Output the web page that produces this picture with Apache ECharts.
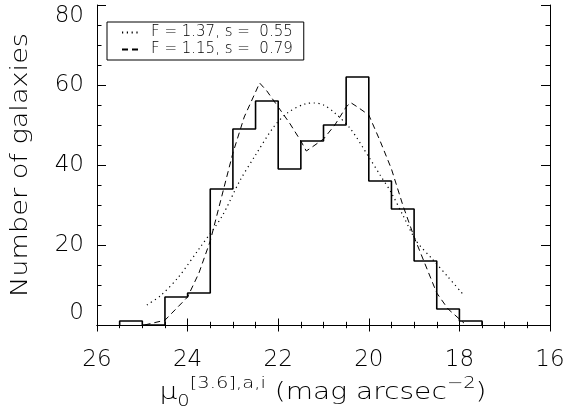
<!DOCTYPE html>
<html>
<head>
<meta charset="utf-8">
<script src="https://cdn.jsdelivr.net/npm/echarts@6/dist/echarts.min.js"></script>
<style>
html, body { margin: 0; padding: 0; background: #fff; }
#chart { width: 568px; height: 412px; }
</style>
</head>
<body>
<div id="chart"></div>
<script>
// histogram bins (mag arcsec^-2, bright end on the right) and galaxy counts
let binEdges = [25.5, 25.0, 24.5, 24.0, 23.5, 23.0, 22.5, 22.0, 21.5, 21.0, 20.5, 20.0, 19.5, 19.0, 18.5, 18.0, 17.5];
let binCounts = [1, 0, 7, 8, 34, 49, 56, 39, 46, 50, 62, 36, 29, 16, 4, 1];

// dotted model, F = 1.37
let dottedMag = [24.9, 24.6, 24.2, 23.75, 23.25, 22.85, 22.5, 22.1, 21.8, 21.4, 21.2, 21.0, 20.75, 20.4, 20.0, 19.75, 19.5, 19.25, 18.95, 18.6, 18.25, 17.92];
let dottedVal = [5, 7.3, 12, 19, 27, 36, 42.5, 49.5, 53, 55.3, 55.5, 55, 53, 49, 42, 37.5, 33, 27.5, 21, 16.5, 12, 7.7];

// dashed model, F = 1.15
let dashedMag = [24.95, 24.5, 24.0, 23.75, 23.5, 23.25, 23.0, 22.75, 22.41, 22.25, 22.0, 21.75, 21.5, 21.38, 21.25, 21.0, 20.75, 20.5, 20.4, 20.25, 20.0, 19.75, 19.5, 19.25, 19.0, 18.75, 18.5, 18.25, 18.0, 17.9];
let dashedVal = [0, 1.2, 7, 13, 21, 32, 43, 52, 60.5, 58.5, 54.5, 50.5, 46, 43.5, 44.5, 46.5, 50, 54.5, 55.6, 54.5, 52.5, 46, 39, 30, 22, 15, 8, 4, 1.5, 0.5];

let legendNames = ['F = 1.37, s =  0.55', 'F = 1.15, s =  0.79'];
let xTitle = ['μ', '0', '[3.6],a,i', ' (mag arcsec', '−2', ')'];
let yTitle = 'Number of galaxies';
let xRange = [16, 26];
let yRange = [0, 80];

let font = 'DejaVu Sans';
let thin = 200;

let histData = [[binEdges[0], 0]];
binCounts.forEach((c, i) => {
    histData.push([binEdges[i], c], [binEdges[i + 1], c]);
});
histData.push([binEdges[binEdges.length - 1], 0]);

let zip = (xs, ys) => xs.map((x, i) => [x, ys[i]]);

// IDL style frame: ticks inside on all four sides
function xAxisOf(position, labels) {
    return {
        type: 'value',
        position,
        inverse: true,
        min: xRange[0],
        max: xRange[1],
        interval: 2,
        axisLine: {lineStyle: {color: '#000', width: 1}},
        axisTick: {inside: true, length: 6.5, lineStyle: {color: '#000'}},
        minorTick: {show: true, splitNumber: 4, length: 3.2, lineStyle: {color: '#000'}},
        splitLine: {show: false},
        axisLabel: {show: labels, margin: 24, color: '#000', fontSize: 23, fontWeight: thin, fontFamily: font}
    };
}

function yAxisOf(position, labels) {
    return {
        type: 'value',
        position,
        min: yRange[0],
        max: yRange[1],
        interval: 20,
        axisLine: {lineStyle: {color: '#000', width: 1}},
        axisTick: {inside: true, length: 9, lineStyle: {color: '#000'}},
        minorTick: {show: true, splitNumber: 4, length: 4.5, lineStyle: {color: '#000'}},
        splitLine: {show: false},
        axisLabel: {
            show: labels, margin: 13, color: '#000', fontSize: 23, fontWeight: thin, fontFamily: font,
            verticalAlignMaxLabel: 'top', verticalAlignMinLabel: 'bottom'
        }
    };
}

let chart = echarts.init(document.getElementById('chart'));

// the plot used a wide vector font, so the axis titles get stretched sideways
let rich = {
    t: {fontSize: 23, fontWeight: thin, fontFamily: font, fill: '#000', lineHeight: 34, verticalAlign: 'middle'},
    sub: {fontSize: 16, fontWeight: thin, fontFamily: font, fill: '#000', verticalAlign: 'bottom'},
    sup: {fontSize: 16, fontWeight: thin, fontFamily: font, fill: '#000', verticalAlign: 'top'}
};

chart.setOption({
    animation: false,
    backgroundColor: '#fff',
    grid: {left: 97, right: 18, top: 5, bottom: 87, outerBoundsMode: 'none'},
    legend: {
        left: 107,
        top: 22,
        orient: 'vertical',
        itemGap: 2,
        itemWidth: 17,
        itemHeight: 14,
        padding: [3, 11, 3, 14],
        borderColor: '#000',
        borderWidth: 1,
        borderRadius: 0,
        itemStyle: {opacity: 0},
        textStyle: {color: '#000', fontSize: 15, fontWeight: thin, fontFamily: font, padding: [0, 0, 0, 7]},
        data: legendNames
    },
    xAxis: [xAxisOf('bottom', true), xAxisOf('top', false)],
    yAxis: [yAxisOf('left', true), yAxisOf('right', false)],
    graphic: [{
        type: 'text',
        x: 323,
        y: 393,
        scaleX: 1.22,
        silent: true,
        style: {
            text: `{t|${xTitle[0]}}{sub|${xTitle[1]}}{sup|${xTitle[2]}}{t|${xTitle[3]}}{sup|${xTitle[4]}}{t|${xTitle[5]}}`,
            rich,
            align: 'center', textAlign: 'center',
            verticalAlign: 'middle', textVerticalAlign: 'middle'
        }
    }, {
        type: 'text',
        x: 21,
        y: 165,
        rotation: Math.PI / 2,
        scaleX: 1.18,
        silent: true,
        style: {
            text: yTitle,
            font: `${thin} 23px "${font}"`,
            fill: '#000',
            align: 'center', textAlign: 'center',
            verticalAlign: 'middle', textVerticalAlign: 'middle'
        }
    }],
    series: [{
        type: 'line',
        name: 'histogram',
        data: histData,
        symbol: 'none',
        lineStyle: {color: '#000', width: 1.6}
    }, {
        type: 'line',
        name: legendNames[0],
        data: zip(dottedMag, dottedVal),
        symbol: 'none',
        smooth: 0.3,
        itemStyle: {color: '#000'},
        lineStyle: {color: '#000', width: 1.2, type: [1.2, 3.6]}
    }, {
        type: 'line',
        name: legendNames[1],
        data: zip(dashedMag, dashedVal),
        symbol: 'none',
        itemStyle: {color: '#000'},
        lineStyle: {color: '#000', width: 1, type: [6, 4]}
    }]
});
</script>
</body>
</html>
